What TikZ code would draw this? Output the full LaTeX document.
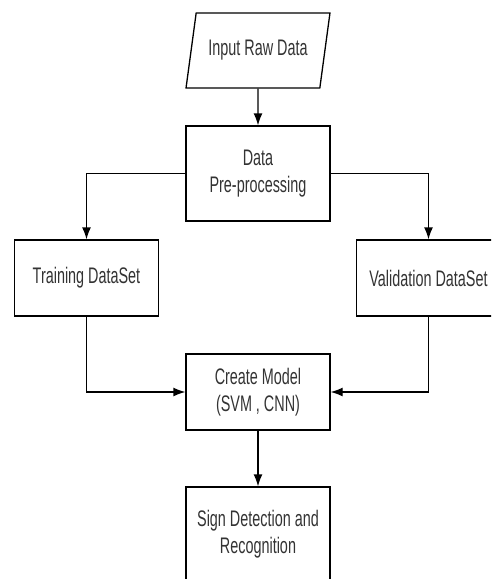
\documentclass[tikz,border=0pt]{standalone}
\usepackage{fontspec}
\setmainfont[FakeStretch=0.64]{Liberation Sans}
\usetikzlibrary{shapes.geometric,arrows.meta}
\tikzset{>={Latex[length=12pt,width=9pt]}}
\colorlet{textgray}{black!80}

\begin{document}
\begin{tikzpicture}[x=1pt,y=-1pt,line width=1.3pt,
    every node/.style={font=\fontsize{22.5pt}{27pt}\selectfont,text=textgray,align=center},
    block/.style={draw,rectangle,minimum width=144pt,minimum height=76pt,inner sep=0pt},
    io/.style={draw,trapezium,trapezium stretches=true,trapezium left angle=68,trapezium right angle=112,minimum width=144pt,minimum height=75pt,inner sep=0pt},
    flow/.style={->}]
    \clip (0,0) rectangle (491,579);
    \node[io] (input) at (258,50.5) {Input Raw Data};
    \node[block,minimum height=95pt] (prep) at (258,173.5) {Data\\Pre-processing};
    \node[block] (train) at (86.5,278) {Training DataSet};
    \node[block] (valid) at (428.5,278) {Validation DataSet};
    \node[block] (model) at (258,392) {Create Model\\(SVM , CNN)};
    \node[block,minimum height=95pt] (sign) at (258,534.5) {Sign Detection and\\Recognition};
    \draw[flow] (input) -- (prep);
    \draw[flow] (prep.west) -| (train);
    \draw[flow] (prep.east) -| (valid);
    \draw[flow] (train) |- (model);
    \draw[flow] (valid) |- (model);
    \draw[flow] (model) -- (sign);
\end{tikzpicture}
\end{document}
